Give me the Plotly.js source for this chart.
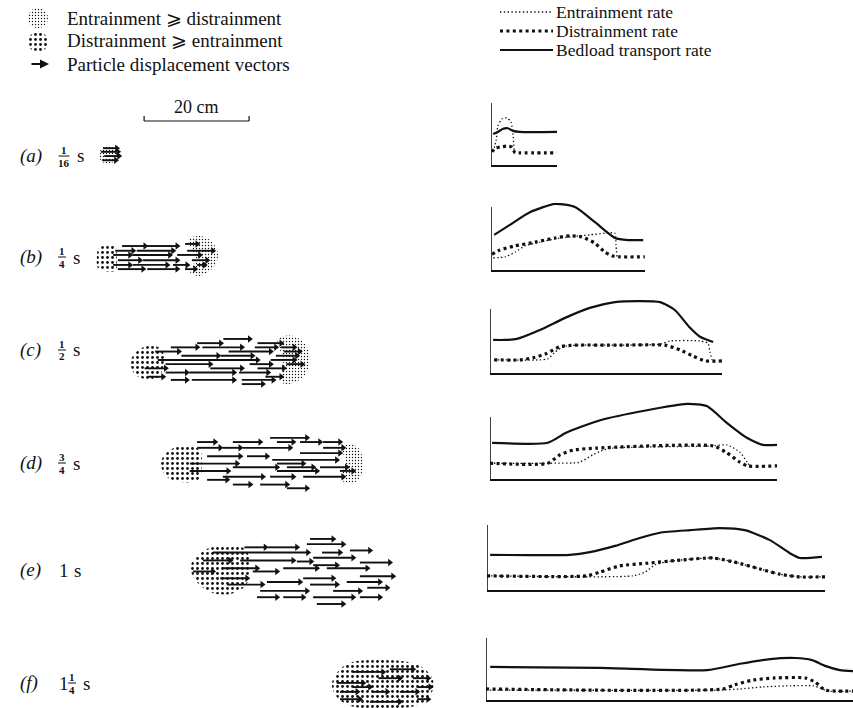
<!DOCTYPE html>
<html>
<head>
<meta charset="utf-8">
<script src="https://cdn.plot.ly/plotly-3.0.1.min.js"></script>
<style>
html,body{margin:0;padding:0;background:#ffffff;}
#chart{width:853px;height:708px;}
</style>
</head>
<body>
<div id="chart"></div>
<script>
// ======================= DATA =======================
const panelLetters = ['a', 'b', 'c', 'd', 'e', 'f'];
const timeWhole = ['', '', '', '', '1', '1'];
const timeNum   = ['1', '1', '1', '3', '', '1'];
const timeDen   = ['16', '4', '2', '4', '', '4'];

const legendLeftText  = ['Entrainment \u2A7E distrainment', 'Distrainment \u2A7E entrainment', 'Particle displacement vectors'];
const legendRightText = ['Entrainment rate', 'Distrainment rate', 'Bedload transport rate'];
const scaleLabel = '20 cm';
const scaleLengthCm = 20;
const scaleStartCm = 8.4;

// Right-hand rate curves: x = distance along bed (cm), y = rate (arbitrary units)
const bedloadX = [
  [0.4, 1.3, 2.3, 3.2, 4.2, 5.5, 12.6],
  [0.6, 3.6, 7.4, 12.2, 16.0, 19.8, 23.6, 26.1, 29.0],
  [0.6, 2.9, 5.1, 9.5, 14.3, 19.0, 23.8, 28.6, 32.4, 35.2, 38.1, 40.0, 42.5],
  [0.4, 11.0, 14.5, 21.0, 29.9, 37.5, 41.3, 45.1, 49.0, 52.0, 54.7],
  [0.6, 15.8, 19.6, 24.4, 29.1, 32.9, 38.7, 44.4, 49.1, 53.9, 57.7, 59.6, 63.8],
  [0.8, 21.7, 42.1, 48.4, 54.1, 58.9, 62.1, 64.6, 67.4, 69.9]
];
const bedloadY = [
  [5.9, 6.3, 6.9, 7.0, 6.5, 6.3, 6.3],
  [6.7, 8.6, 11.0, 12.6, 12.0, 9.1, 6.1, 5.7, 5.7],
  [6.3, 6.3, 6.5, 8.2, 10.5, 12.4, 13.5, 13.7, 13.5, 12.0, 8.6, 6.9, 5.9],
  [6.9, 6.9, 8.8, 11.2, 13.1, 14.3, 13.9, 10.7, 7.8, 6.5, 6.5],
  [6.7, 6.7, 7.2, 8.4, 9.9, 10.9, 11.4, 11.8, 11.4, 9.5, 7.0, 6.1, 6.3],
  [6.3, 6.1, 5.7, 6.9, 7.8, 8.0, 7.6, 6.5, 5.7, 5.5]
];
const distrainX = [
  [0.2, 0.8, 1.7, 3.0, 4.0, 4.6, 5.5, 12.6],
  [0.2, 1.7, 4.6, 8.4, 12.2, 15.0, 17.3, 19.8, 21.7, 23.0, 24.6, 29.3],
  [0.8, 5.7, 8.2, 10.5, 13.3, 16.2, 24.8, 33.3, 36.2, 38.7, 41.0, 44.2],
  [0, 11.0, 13.3, 15.8, 20.4, 42.5, 45.1, 47.6, 49.0, 54.7],
  [0, 19.0, 21.5, 25.3, 30.5, 36.8, 43.0, 47.2, 52.0, 55.8, 59.6, 64.4],
  [0, 45.1, 47.4, 50.9, 55.0, 60.8, 62.7, 64.6, 69.9]
];
const distrainY = [
  [2.5, 3.2, 3.4, 3.6, 3.4, 2.3, 2.3, 2.3],
  [3.0, 3.8, 4.6, 5.3, 6.1, 6.5, 6.3, 5.1, 3.4, 2.7, 2.5, 2.5],
  [2.5, 2.5, 2.9, 3.6, 5.0, 5.3, 5.3, 5.3, 4.4, 3.2, 2.3, 2.3],
  [3.0, 3.0, 4.6, 5.5, 5.9, 6.3, 5.0, 3.2, 2.5, 2.5],
  [2.7, 2.7, 3.4, 4.6, 5.1, 5.7, 6.1, 5.3, 4.0, 3.0, 2.5, 2.5],
  [2.1, 2.1, 2.9, 3.8, 4.2, 4.2, 3.4, 1.9, 1.7]
];
const entrainX = [
  [0.4, 1.0, 1.3, 2.1, 3.0, 3.8, 4.2, 4.4],
  [0.4, 2.7, 4.6, 6.5, 9.3, 13.1, 17.0, 18.9, 21.7, 23.6, 23.8, 24.0],
  [0.8, 9.5, 11.0, 12.4, 14.3, 24.8, 32.4, 34.3, 40.0, 41.5, 41.9, 42.3],
  [0, 11.0, 17.0, 19.6, 21.5, 23.4, 42.5, 45.1, 47.6, 49.0, 49.5],
  [0, 27.8, 30.1, 32.0, 33.9, 36.8, 43.0, 47.2, 52.0, 55.8, 59.6, 64.4],
  [0, 45.1, 48.4, 52.8, 58.0, 62.3, 63.6, 65.0, 69.9]
];
const entrainY = [
  [2.5, 4.8, 7.4, 8.8, 9.0, 8.2, 5.7, 2.9],
  [2.3, 2.5, 3.4, 4.6, 5.3, 6.1, 6.5, 6.7, 7.0, 7.0, 4.8, 2.5],
  [2.5, 2.5, 2.7, 4.0, 5.1, 5.3, 5.5, 6.1, 6.1, 5.7, 4.0, 2.5],
  [3.0, 3.0, 3.2, 4.6, 5.5, 5.9, 6.3, 6.5, 5.1, 3.2, 2.5],
  [2.7, 2.7, 3.4, 4.8, 5.3, 5.7, 6.1, 5.3, 4.0, 3.0, 2.5, 2.5],
  [1.9, 1.9, 2.1, 2.5, 2.7, 2.7, 2.3, 1.7, 1.7]
];

// Left-hand particle clouds: x = distance (cm), y = cross-stream offset (cm)
// Particle displacement vectors: [start x, end x, y]
const arrows_a = [[0.6, 3.2, 1.3], [0.2, 3.4, 0.6], [0.8, 3.6, -0.2], [0.4, 3.0, -1.0]];
const arrows_b = [
  [4.2, 8.6, 1.9], [9.0, 14.7, 1.9], [16.2, 18.5, 2.3],
  [2.9, 6.3, 1.0], [7.0, 13.9, 1.0], [16.6, 21.5, 1.0],
  [2.5, 5.7, 0.2], [6.2, 13.3, 0.2], [14.7, 19.0, 0.2],
  [3.4, 7.6, -0.8], [8.2, 14.7, -0.8], [17.5, 20.4, -0.8],
  [2.5, 5.7, -1.7], [6.3, 12.8, -1.7], [13.9, 16.6, -1.7], [18.5, 19.9, -1.7],
  [3.4, 8.2, -2.5], [9.0, 14.7, -2.5], [16.2, 18.1, -2.5]
];
const arrows_c = [
  [23.5, 28.5, 4.2],
  [18.5, 23.0, 3.4], [30.0, 34.5, 3.4],
  [13.5, 18.5, 2.6], [19.5, 27.0, 2.6], [29.5, 33.5, 2.6], [34.5, 37.0, 2.6],
  [10.5, 15.0, 1.8], [24.5, 32.5, 1.8], [35.0, 38.0, 1.8],
  [15.5, 22.5, 1.0], [23.0, 29.0, 1.0], [33.5, 37.5, 1.0],
  [11.0, 30.0, 0.2], [32.5, 37.0, 0.2],
  [12.5, 21.0, -0.6], [28.5, 32.5, -0.6], [35.5, 38.5, -0.6],
  [8.5, 12.5, -1.4], [21.0, 27.0, -1.4], [30.0, 35.0, -1.4],
  [12.5, 16.5, -2.2], [17.0, 25.5, -2.2], [26.5, 32.0, -2.2],
  [9.0, 12.0, -3.0], [31.5, 34.5, -3.0],
  [13.5, 16.5, -3.6], [17.5, 25.5, -3.6], [27.0, 33.0, -3.6],
  [27.0, 31.0, -4.4]
];
const arrows_d = [
  [32.4, 39.4, 4.6],
  [18.5, 21.9, 3.8], [25.3, 30.5, 3.8], [33.7, 36.8, 3.8], [38.1, 41.9, 3.8], [42.5, 45.7, 3.8],
  [18.5, 22.9, 2.7], [23.4, 26.7, 2.7], [27.2, 36.2, 2.7], [42.5, 46.3, 2.7],
  [38.1, 45.7, 1.7],
  [20.4, 26.7, 1.1], [28.0, 31.8, 1.1],
  [32.8, 45.1, 0.4],
  [17.1, 26.1, -0.3], [33.7, 38.7, -0.3],
  [25.3, 33.7, -1.0], [35.6, 40.6, -1.0], [41.9, 47.0, -1.0],
  [17.1, 24.4, -1.7], [33.7, 41.3, -1.7], [45.7, 48.2, -1.7],
  [23.4, 31.0, -2.8], [32.4, 36.8, -2.8], [38.7, 46.3, -2.8],
  [20.4, 24.2, -3.4],
  [25.3, 28.6, -4.3], [30.5, 35.6, -4.3],
  [35.6, 39.4, -5.0]
];
const arrows_e = [
  [40.0, 44.4, 6.3],
  [39.4, 46.3, 5.3],
  [27.5, 31.5, 4.7], [32.0, 37.5, 4.7],
  [47.6, 51.4, 4.1],
  [21.5, 39.6, 3.7], [42.3, 45.7, 3.7],
  [40.6, 48.2, 2.7],
  [19.6, 24.8, 2.2], [26.7, 36.8, 2.2], [37.5, 40.2, 2.0],
  [49.5, 55.2, 1.8],
  [40.6, 45.1, 1.3],
  [23.4, 29.9, 0.7], [34.9, 41.3, 0.7], [43.2, 50.9, 0.7],
  [17.7, 21.5, 0.1], [29.1, 33.7, 0.1],
  [49.5, 55.8, -0.8],
  [22.9, 28.0, -1.2], [38.7, 44.4, -1.2],
  [31.8, 38.1, -1.9], [47.0, 53.3, -1.9],
  [24.2, 30.9, -2.4], [40.0, 45.1, -2.4],
  [50.9, 54.7, -3.0],
  [30.5, 39.4, -3.6], [44.4, 49.5, -3.6],
  [29.9, 33.7, -4.8], [34.9, 38.7, -4.8], [40.6, 48.2, -4.8], [49.5, 53.3, -4.8],
  [41.3, 46.3, -6.1]
];
const arrows_f = [
  [55.2, 59.6, 3.0], [48.2, 53.9, 2.5],
  [53.0, 57.1, 1.3], [59.6, 62.5, 1.3],
  [45.1, 50.1, 0.4],
  [48.2, 51.4, -0.4], [60.4, 62.9, -0.4],
  [45.7, 49.0, -1.3], [51.8, 54.7, -1.3], [57.1, 60.4, -1.3],
  [45.7, 49.5, -2.7], [60.4, 62.5, -2.7],
  [51.4, 57.1, -3.2]
];
// Zones where entrainment >> distrainment (fine stipple): outline [x, y]
const entrZone_a = [[3.2, 0], [2.7, 1.2], [1.5, 1.7], [0.3, 1.2], [-0.2, 0], [0.3, -1.2], [1.5, -1.7], [2.7, -1.2]];
const entrZone_b = [[16.8, 3.0], [19.0, 3.8], [21.3, 2.7], [22.5, 0.2], [21.5, -2.3], [19.0, -3.8], [17.1, -3.0], [18.3, -0.4]];
const entrZone_c = [[33.9, 4.2], [36.6, 4.8], [38.7, 3.6], [40.0, 1.0], [39.4, -2.1], [37.3, -4.0], [34.7, -4.2], [34.9, 0.2]];
const entrZone_d = [[46.3, 2.9], [48.0, 3.4], [49.5, 2.3], [50.1, -0.6], [49.5, -3.0], [47.6, -4.2], [46.1, -3.4], [46.7, -0.2]];
// Zones where distrainment >> entrainment (coarse dots): outline [x, y]
const distZone_b = [[-0.2, 1.5], [1.5, 2.1], [3.0, 1.7], [3.2, -0.4], [3.0, -2.7], [1.0, -2.9], [-0.4, -2.3], [-0.6, -0.4]];
const distZone_c = [[7.6, 2.3], [10.5, 2.9], [12.0, 1.7], [12.0, -1.3], [11.0, -3.2], [8.2, -3.4], [6.3, -2.1], [5.9, 0.2]];
const distZone_d = [[13.3, 2.3], [16.2, 3.0], [19.0, 2.3], [19.4, -0.6], [18.7, -3.4], [15.2, -3.8], [12.6, -2.7], [11.6, 0]];
const distZone_e = [[20.0, 4.2], [23.8, 5.0], [27.6, 4.4], [28.6, 1.3], [27.8, -2.5], [24.8, -4.2], [21.0, -3.8], [18.1, -1.5], [17.3, 1.3]];
const distZone_f = [[46.7, 3.8], [51.4, 4.8], [57.1, 4.6], [61.0, 3.6], [63.4, 1.0], [62.9, -2.1], [60.0, -4.0], [54.3, -4.4], [48.6, -4.2], [45.3, -2.5], [44.2, 0.4]];
// legend glyph outline (unit circle-ish)
const iconOutline = [[1, 0], [0.87, 0.5], [0.5, 0.87], [0, 1], [-0.5, 0.87], [-0.87, 0.5], [-1, 0], [-0.87, -0.5], [-0.5, -0.87], [0, -1], [0.5, -0.87], [0.87, -0.5]];

// ======================= LAYOUT / DRAWING =======================
const W = 853, H = 708, PXCM = 5.25;
const ink = '#111111';
const serif = '"Liberation Serif", "Times New Roman", serif';
const fx = px => px / W;
const fy = py => 1 - py / H;
const textSize = 19;
const rightLegendSize = 17.5;

const entrPattern = {shape: '.', size: 3, solidity: 0.17, fgcolor: ink, fgopacity: 1};
const distPattern = {shape: '.', size: 5, solidity: 0.24, fgcolor: ink, fgopacity: 1};
const dashEntr = '1.4px,2.4px';
const dashDist = '3px,3.4px';

const traces = [];
const layout = {
  width: W, height: H,
  margin: {l: 0, r: 0, t: 0, b: 0, pad: 0},
  paper_bgcolor: '#ffffff', plot_bgcolor: 'rgba(0,0,0,0)',
  showlegend: false,
  shapes: [], annotations: [],
  font: {family: serif, color: ink, size: textSize}
};

function zoneTrace(pts, ax, pattern) {
  const xs = pts.map(p => p[0]); xs.push(pts[0][0]);
  const ys = pts.map(p => p[1]); ys.push(pts[0][1]);
  return {type: 'scatter', mode: 'lines', x: xs, y: ys, fill: 'toself',
    fillcolor: 'rgba(0,0,0,0)', fillpattern: pattern,
    line: {width: 0, color: 'rgba(0,0,0,0)', shape: 'spline', smoothing: 1},
    xaxis: 'x' + ax, yaxis: 'y' + ax, hoverinfo: 'skip'};
}
function arrowTraces(list, ax) {
  const xs = [], ys = [];
  list.forEach(a => { xs.push(a[0], a[1], null); ys.push(a[2], a[2], null); });
  return [
    {type: 'scatter', mode: 'lines', x: xs, y: ys, connectgaps: false,
      line: {color: ink, width: 1.9}, xaxis: 'x' + ax, yaxis: 'y' + ax, hoverinfo: 'skip'},
    {type: 'scatter', mode: 'markers', x: list.map(a => a[1]), y: list.map(a => a[2]),
      marker: {symbol: 'triangle-right', size: 6.5, color: ink}, cliponaxis: false,
      xaxis: 'x' + ax, yaxis: 'y' + ax, hoverinfo: 'skip'}
  ];
}

// ---- left column: particle clouds ----
const arrowSets = [arrows_a, arrows_b, arrows_c, arrows_d, arrows_e, arrows_f];
const entrZones = [entrZone_a, entrZone_b, entrZone_c, entrZone_d, null, null];
const distZones = [null, distZone_b, distZone_c, distZone_d, distZone_e, distZone_f];
const rowCenter = [155, 256, 361, 462, 572, 685];
const originPx = 100, leftWidthPx = 469;
for (let i = 0; i < 6; i++) {
  const n = i + 1, s = n === 1 ? '' : String(n);
  const c = rowCenter[i], top = c - 36, bot = Math.min(c + 36, H);
  layout['xaxis' + s] = {domain: [0, fx(leftWidthPx)], range: [-originPx / PXCM, (leftWidthPx - originPx) / PXCM],
    visible: false, fixedrange: true, anchor: 'y' + s};
  layout['yaxis' + s] = {domain: [fy(bot), fy(top)], range: [-(bot - c) / PXCM, (c - top) / PXCM],
    visible: false, fixedrange: true, anchor: 'x' + s};
  if (distZones[i]) traces.push(zoneTrace(distZones[i], s, distPattern));
  if (entrZones[i]) traces.push(zoneTrace(entrZones[i], s, entrPattern));
  arrowTraces(arrowSets[i], s).forEach(t => traces.push(t));
}

// ---- right column: rate curves ----
const rightBox = [
  {l: 491, r: 557, t: 103, b: 165, axisTop: 103},
  {l: 491, r: 645, t: 203, b: 270, axisTop: 207},
  {l: 490, r: 722, t: 298, b: 373, axisTop: 309},
  {l: 490, r: 777, t: 400, b: 479, axisTop: 417},
  {l: 487, r: 825, t: 524, b: 590, axisTop: 525},
  {l: 486, r: 853, t: 637, b: 700, axisTop: 638}
];
for (let i = 0; i < 6; i++) {
  const n = String(i + 7), bx = rightBox[i];
  layout['xaxis' + n] = {domain: [fx(bx.l), Math.min(1, fx(bx.r))], range: [0, (bx.r - bx.l) / PXCM],
    showline: true, linecolor: ink, linewidth: 1.6, showgrid: false, zeroline: false,
    showticklabels: false, ticks: '', fixedrange: true, anchor: 'y' + n};
  layout['yaxis' + n] = {domain: [fy(bx.b), fy(bx.t)], range: [0, (bx.b - bx.t) / PXCM],
    showline: false, showgrid: false, zeroline: false, showticklabels: false, ticks: '',
    fixedrange: true, anchor: 'x' + n};
  layout.shapes.push({type: 'line', xref: 'x' + n, yref: 'y' + n, x0: 0, x1: 0, y0: 0,
    y1: (bx.b - bx.axisTop) / PXCM, line: {color: ink, width: 1.6}});
  const common = {type: 'scatter', mode: 'lines', xaxis: 'x' + n, yaxis: 'y' + n, hoverinfo: 'skip'};
  traces.push(Object.assign({}, common, {x: entrainX[i], y: entrainY[i],
    line: {color: ink, width: 1.3, dash: dashEntr, shape: 'spline', smoothing: 0.6}}));
  traces.push(Object.assign({}, common, {x: distrainX[i], y: distrainY[i],
    line: {color: ink, width: 3.2, dash: dashDist, shape: 'spline', smoothing: 0.6}}));
  traces.push(Object.assign({}, common, {x: bedloadX[i], y: bedloadY[i],
    line: {color: ink, width: 2.2, shape: 'spline', smoothing: 0.6}}));
}

// ---- legend glyphs (left) ----
const iconBoxes = [{cx: 38, cy: 18, pattern: entrPattern}, {cx: 38, cy: 42, pattern: distPattern}];
iconBoxes.forEach((b, k) => {
  const n = String(13 + k), r = 10;
  layout['xaxis' + n] = {domain: [fx(b.cx - r), fx(b.cx + r)], range: [-1, 1], visible: false, fixedrange: true, anchor: 'y' + n};
  layout['yaxis' + n] = {domain: [fy(b.cy + r), fy(b.cy - r)], range: [-1, 1], visible: false, fixedrange: true, anchor: 'x' + n};
  traces.push(zoneTrace(iconOutline, n, b.pattern));
});
layout.annotations.push({xref: 'paper', yref: 'paper', x: fx(49), y: fy(64), ax: -19, ay: 0,
  showarrow: true, arrowhead: 2, arrowsize: 1, arrowwidth: 1.8, arrowcolor: ink, text: ''});

const legLeftY = [18, 41, 64];
legendLeftText.forEach((t, k) => layout.annotations.push({xref: 'paper', yref: 'paper', x: fx(65), y: fy(legLeftY[k]),
  xanchor: 'left', yanchor: 'middle', showarrow: false, text: t, font: {family: serif, size: textSize, color: ink}}));

// ---- legend (right) ----
const legRightY = [12, 31, 50];
const legDash = [dashEntr, dashDist, 'solid'];
const legWidth = [1.3, 3.2, 2.2];
legendRightText.forEach((t, k) => {
  layout.shapes.push({type: 'line', xref: 'paper', yref: 'paper', x0: fx(500), x1: fx(553), y0: fy(legRightY[k]), y1: fy(legRightY[k]),
    line: {color: ink, width: legWidth[k], dash: legDash[k]}});
  layout.annotations.push({xref: 'paper', yref: 'paper', x: fx(554), y: fy(legRightY[k]), xanchor: 'left', yanchor: 'middle',
    showarrow: false, text: t, font: {family: serif, size: rightLegendSize, color: ink}});
});

// ---- scale bar ----
const barY = 121;
layout.shapes.push({type: 'line', xref: 'x', yref: 'paper', x0: scaleStartCm, x1: scaleStartCm + scaleLengthCm, y0: fy(barY), y1: fy(barY), line: {color: ink, width: 1.2}});
layout.shapes.push({type: 'line', xref: 'x', yref: 'paper', x0: scaleStartCm, x1: scaleStartCm, y0: fy(barY), y1: fy(barY - 5), line: {color: ink, width: 1.2}});
layout.shapes.push({type: 'line', xref: 'x', yref: 'paper', x0: scaleStartCm + scaleLengthCm, x1: scaleStartCm + scaleLengthCm, y0: fy(barY), y1: fy(barY - 5), line: {color: ink, width: 1.2}});
layout.annotations.push({xref: 'x', yref: 'paper', x: scaleStartCm + scaleLengthCm / 2, y: fy(107), xanchor: 'center', yanchor: 'middle',
  showarrow: false, text: scaleLabel, font: {family: serif, size: 18, color: ink}});

// ---- panel time labels ----
const labelY = [156, 257, 350, 463, 570, 683];
for (let i = 0; i < 6; i++) {
  const y = labelY[i];
  layout.annotations.push({xref: 'paper', yref: 'paper', x: fx(18), y: fy(y), xanchor: 'left', yanchor: 'middle',
    showarrow: false, text: '<i>(' + panelLetters[i] + ')</i>', font: {family: serif, size: textSize, color: ink}});
  let cx = 57;
  if (timeWhole[i]) {
    layout.annotations.push({xref: 'paper', yref: 'paper', x: fx(cx), y: fy(y), xanchor: 'left', yanchor: 'middle',
      showarrow: false, text: timeWhole[i], font: {family: serif, size: textSize, color: ink}});
    cx += timeNum[i] ? 10 : 15;
  }
  if (timeNum[i]) {
    const fc = cx + (timeDen[i].length > 1 ? 7 : 5);
    const hw = timeDen[i].length > 1 ? 5.5 : 4;
    layout.annotations.push({xref: 'paper', yref: 'paper', x: fx(fc), y: fy(y - 6), xanchor: 'center', yanchor: 'middle',
      showarrow: false, text: '<b>' + timeNum[i] + '</b>', font: {family: serif, size: 11, color: ink}});
    layout.annotations.push({xref: 'paper', yref: 'paper', x: fx(fc), y: fy(y + 6.5), xanchor: 'center', yanchor: 'middle',
      showarrow: false, text: '<b>' + timeDen[i] + '</b>', font: {family: serif, size: 11, color: ink}});
    layout.shapes.push({type: 'line', xref: 'paper', yref: 'paper', x0: fx(fc - hw), x1: fx(fc + hw), y0: fy(y), y1: fy(y),
      line: {color: ink, width: 1}});
    cx = fc + hw + 5;
  }
  layout.annotations.push({xref: 'paper', yref: 'paper', x: fx(cx), y: fy(y), xanchor: 'left', yanchor: 'middle',
    showarrow: false, text: 's', font: {family: serif, size: textSize, color: ink}});
}

Plotly.newPlot('chart', traces, layout, {displayModeBar: false, staticPlot: true});
</script>
</body>
</html>
